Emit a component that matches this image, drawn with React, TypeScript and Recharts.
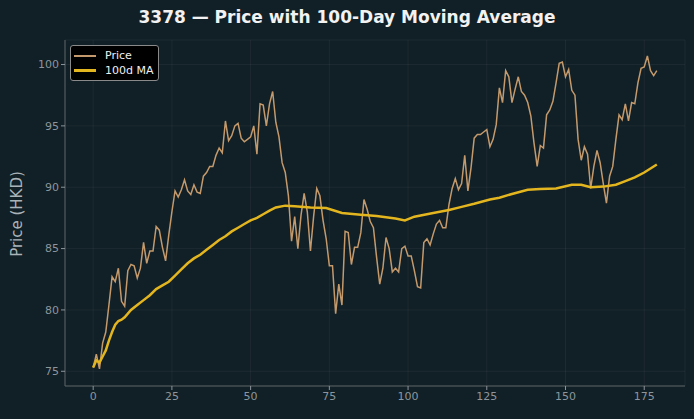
import React from 'react';
import { LineChart, Line, XAxis, YAxis, CartesianGrid } from 'recharts';

// closing price, one value per trading day (day 0..179)
const prices = [
  75.3, 76.4, 75.2, 77.3, 78.2, 80.4, 82.7, 82.3, 83.4, 80.7,
  80.3, 83.2, 83.7, 83.6, 82.6, 83.4, 85.5, 83.8, 84.8, 84.8,
  86.8, 86.5, 85.1, 84.0, 86.1, 88.0, 89.7, 89.2, 89.8, 90.6,
  89.7, 89.4, 90.2, 89.6, 89.5, 90.9, 91.2, 91.7, 91.7, 92.6,
  93.2, 92.8, 95.4, 93.8, 94.2, 95.0, 95.2, 94.0, 93.7, 93.9,
  94.1, 95.0, 92.7, 96.8, 96.7, 95.0, 96.8, 97.8, 95.3, 94.1,
  92.0, 91.2, 89.3, 85.6, 87.6, 85.0, 87.7, 89.5, 88.0, 84.8,
  87.6, 89.9, 89.3, 87.3, 85.8, 83.6, 83.6, 79.7, 82.1, 80.4,
  86.4, 86.3, 83.7, 85.1, 85.1, 86.3, 89.0, 88.2, 87.2, 86.7,
  84.3, 82.1, 83.4, 85.9, 85.0, 83.1, 83.4, 83.1, 85.0, 85.2,
  84.4, 84.4, 83.2, 81.9, 81.8, 85.5, 85.8, 85.3, 86.2, 87.0,
  87.3, 86.7, 86.7, 88.6, 89.9, 90.7, 89.8, 90.3, 92.6, 89.7,
  91.6, 94.0, 94.3, 94.3, 94.5, 94.7, 93.3, 93.9, 95.1, 98.1,
  96.9, 99.5, 99.0, 96.9, 98.0, 99.0, 97.8, 97.5, 96.9, 95.8,
  93.6, 91.7, 93.4, 93.2, 95.9, 96.3, 97.0, 98.5, 100.1, 100.2,
  99.0, 99.6, 97.9, 97.5, 93.9, 92.2, 93.3, 92.7, 89.9, 91.7,
  93.0, 92.0, 90.3, 88.7, 90.9, 91.7, 93.9, 95.9, 95.5, 96.8,
  95.4, 96.9, 96.8, 98.5, 99.7, 99.8, 100.7, 99.5, 99.1, 99.5,
];

// 100-day moving average, read at these days
const maDays = [
  0, 1, 2, 3, 4, 5, 6, 7, 8, 9, 10, 12, 14, 16, 18, 20, 22, 24, 26, 28,
  30, 32, 34, 36, 38, 40, 42, 44, 46, 48, 50, 52, 54, 56, 58, 61, 64, 69,
  74, 79, 85, 90, 96, 99, 102, 108, 113, 117, 121, 126, 129, 133, 138,
  142, 147, 152, 155, 158, 162, 166, 169, 172, 175, 179,
];
const maValues = [
  75.3, 75.9, 75.7, 76.2, 76.7, 77.5, 78.2, 78.8, 79.1, 79.2, 79.4, 80.0,
  80.4, 80.8, 81.2, 81.7, 82.0, 82.3, 82.8, 83.3, 83.8, 84.2, 84.5, 84.9,
  85.3, 85.7, 86.0, 86.4, 86.7, 87.0, 87.3, 87.5, 87.8, 88.1, 88.35, 88.5,
  88.45, 88.35, 88.3, 87.9, 87.75, 87.65, 87.45, 87.3, 87.6, 87.9, 88.15,
  88.4, 88.65, 89.0, 89.15, 89.45, 89.8, 89.85, 89.9, 90.2, 90.2, 90.0,
  90.05, 90.2, 90.5, 90.8, 91.2, 91.85,
];

const xTicks = [0, 25, 50, 75, 100, 125, 150, 175];
const yTicks = [75, 80, 85, 90, 95, 100];

const data = prices.map((p, i) => {
  const k = maDays.indexOf(i);
  return { day: i, price: p, ma: k >= 0 ? maValues[k] : null };
});

const BG = '#111f26';
const FONT = '"DejaVu Sans", sans-serif';
const PRICE_COLOR = '#c49a6c';
const MA_COLOR = '#e3b51f';

const LegendBox = () => (
  <div
    style={{
      position: 'absolute',
      left: 70,
      top: 45,
      whiteSpace: 'nowrap',
      background: '#000',
      border: '1px solid #8a8a8a',
      borderRadius: 3,
      padding: '2px 4px 2px 3px',
      fontFamily: FONT,
      fontSize: 11,
      color: '#f0f0f0',
      lineHeight: '15px',
    }}
  >
    <div style={{ display: 'flex', alignItems: 'center' }}>
      <span style={{ width: 22, height: 2, background: PRICE_COLOR, marginRight: 9 }} />
      Price
    </div>
    <div style={{ display: 'flex', alignItems: 'center' }}>
      <span style={{ width: 22, height: 3, background: MA_COLOR, marginRight: 9 }} />
      100d MA
    </div>
  </div>
);

export default function App() {
  const tick = { fill: '#8c969c', fontSize: 11, fontFamily: FONT };
  return (
    <div
      style={{
        position: 'fixed',
        left: 0,
        top: 0,
        width: 694,
        height: 419,
        background: BG,
      }}
    >
      <div
        style={{
          position: 'absolute',
          top: 7,
          width: 694,
          textAlign: 'center',
          fontFamily: FONT,
          fontWeight: 'bold',
          fontSize: 17,
          color: '#f2f2f2',
        }}
      >
        3378 — Price with 100-Day Moving Average
      </div>
      <div
        style={{
          position: 'absolute',
          left: 17,
          top: 214,
          transform: 'translate(-50%, -50%) rotate(-90deg)',
          whiteSpace: 'nowrap',
          fontFamily: FONT,
          fontSize: 15,
          color: '#aab3b8',
        }}
      >
        Price (HKD)
      </div>
      <LineChart
        width={694}
        height={419}
        data={data}
        margin={{ top: 40, right: 9, left: 8, bottom: 8 }}
      >
        <CartesianGrid stroke="#ffffff" strokeOpacity={0.05} />
        <XAxis
          dataKey="day"
          type="number"
          domain={[-8.95, 187.95]}
          ticks={xTicks}
          tick={tick}
          stroke="#5a6266"
          tickLine={{ stroke: '#8c969c' }}
          tickSize={4}
          height={25}
          allowDataOverflow
        />
        <YAxis
          type="number"
          domain={[73.8, 102.0]}
          ticks={yTicks}
          tick={tick}
          stroke="#5a6266"
          tickLine={{ stroke: '#8c969c' }}
          tickSize={4}
          width={57}
          allowDataOverflow
        />
        <Line
          type="linear"
          dataKey="price"
          name="Price"
          stroke={PRICE_COLOR}
          strokeWidth={1.5}
          dot={false}
          isAnimationActive={false}
        />
        <Line
          type="linear"
          dataKey="ma"
          name="100d MA"
          stroke={MA_COLOR}
          strokeWidth={2.5}
          dot={false}
          connectNulls
          isAnimationActive={false}
        />
      </LineChart>
      <LegendBox />
    </div>
  );
}
